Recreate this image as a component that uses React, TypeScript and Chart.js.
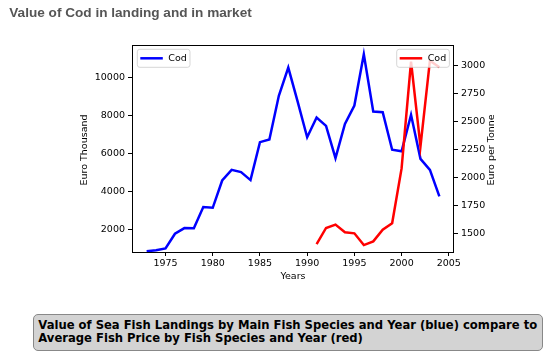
import React, { useEffect, useRef } from "react";
import { Chart, registerables } from "chart.js";

Chart.register(...registerables);

const years: number[] = [
  1973, 1974, 1975, 1976, 1977, 1978, 1979, 1980, 1981, 1982, 1983, 1984, 1985, 1986, 1987, 1988,
  1989, 1990, 1991, 1992, 1993, 1994, 1995, 1996, 1997, 1998, 1999, 2000, 2001, 2002, 2003, 2004,
];
const landingValue: number[] = [
  830, 880, 980, 1750, 2050, 2040, 3160, 3120, 4560, 5120, 5000, 4580, 6580, 6720, 9020, 10510,
  8700, 6840, 7880, 7440, 5740, 7540, 8510, 11210, 8190, 8160, 6180, 6100, 8020, 5700, 5120, 3720,
];
const priceYears: number[] = [1991, 1992, 1993, 1994, 1995, 1996, 1997, 1998, 1999, 2000, 2001, 2002, 2003, 2004];
const priceValue: number[] = [1404, 1548, 1578, 1509, 1500, 1395, 1428, 1533, 1590, 2081, 3036, 2277, 3045, 2985];

const xTicks: number[] = [1975, 1980, 1985, 1990, 1995, 2000, 2005];
const leftTicks: number[] = [2000, 4000, 6000, 8000, 10000];
const rightTicks: number[] = [1500, 1750, 2000, 2250, 2500, 2750, 3000];

const FONT = "DejaVu Sans";

function drawLegend(ctx: CanvasRenderingContext2D, x: number, y: number, color: string, label: string) {
  const w = 52.7;
  const h = 18;
  const r = 2.5;
  ctx.save();
  ctx.beginPath();
  ctx.moveTo(x + r, y);
  ctx.lineTo(x + w - r, y);
  ctx.arcTo(x + w, y, x + w, y + r, r);
  ctx.lineTo(x + w, y + h - r);
  ctx.arcTo(x + w, y + h, x + w - r, y + h, r);
  ctx.lineTo(x + r, y + h);
  ctx.arcTo(x, y + h, x, y + h - r, r);
  ctx.lineTo(x, y + r);
  ctx.arcTo(x, y, x + r, y, r);
  ctx.closePath();
  ctx.fillStyle = "rgba(255,255,255,0.8)";
  ctx.fill();
  ctx.strokeStyle = "rgba(204,204,204,0.8)";
  ctx.lineWidth = 1;
  ctx.stroke();
  ctx.beginPath();
  ctx.moveTo(x + 3, y + h / 2);
  ctx.lineTo(x + 25.5, y + h / 2);
  ctx.strokeStyle = color;
  ctx.lineWidth = 2.5;
  ctx.stroke();
  ctx.fillStyle = "#000";
  ctx.font = `9.5px "${FONT}"`;
  ctx.textBaseline = "middle";
  ctx.textAlign = "left";
  ctx.fillText(label, x + 31, y + h / 2 + 0.5);
  ctx.restore();
}

const decorPlugin = {
  id: "decor",
  afterDatasetsDraw(chart: any) {
    const ctx: CanvasRenderingContext2D = chart.ctx;
    const a = chart.chartArea;
    ctx.save();
    ctx.strokeStyle = "#000";
    ctx.lineWidth = 1;
    ctx.strokeRect(Math.round(a.left) + 0.5, Math.round(a.top) + 0.5, Math.round(a.right - a.left) - 1, Math.round(a.bottom - a.top));
    ctx.restore();
    drawLegend(ctx, a.left + 5.3, a.top + 4.3, "#0000ff", "Cod");
    drawLegend(ctx, a.right - 57.3, a.top + 4.3, "#ff0000", "Cod");
  },
  afterDraw(chart: any) {
    const ctx: CanvasRenderingContext2D = chart.ctx;
    const a = chart.chartArea;
    const midY = (a.top + a.bottom) / 2 + 1.5;
    ctx.save();
    ctx.fillStyle = "#000";
    ctx.font = `9.5px "${FONT}"`;
    ctx.textAlign = "center";
    ctx.textBaseline = "middle";
    ctx.fillText("Years", (a.left + a.right) / 2, 277);
    ctx.save();
    ctx.translate(85, midY);
    ctx.rotate(-Math.PI / 2);
    ctx.fillText("Euro Thousand", 0, 0);
    ctx.restore();
    ctx.save();
    ctx.translate(491.7, midY);
    ctx.rotate(-Math.PI / 2);
    ctx.fillText("Euro per Tonne", 0, 0);
    ctx.restore();
    ctx.restore();
  },
};

export default function App() {
  const canvasRef = useRef<HTMLCanvasElement | null>(null);

  useEffect(() => {
    if (!canvasRef.current) return;
    const tickFont = { family: FONT, size: 9.5 };
    const chart = new Chart(canvasRef.current, {
      type: "line",
      data: {
        datasets: [
          {
            label: "Cod price",
            data: priceYears.map((y, i) => ({ x: y, y: priceValue[i] })),
            borderColor: "#ff0000",
            borderWidth: 2.5,
            pointRadius: 0,
            tension: 0,
            yAxisID: "y2",
            order: 0,
          },
          {
            label: "Cod landing",
            data: years.map((y, i) => ({ x: y, y: landingValue[i] })),
            borderColor: "#0000ff",
            borderWidth: 2.5,
            pointRadius: 0,
            tension: 0,
            yAxisID: "y",
            order: 1,
          },
        ],
      },
      options: {
        responsive: false,
        animation: false,
        layout: { padding: { top: 45, left: 0, right: 0, bottom: 0 } },
        plugins: { legend: { display: false }, tooltip: { enabled: false }, title: { display: false } },
        scales: {
          x: {
            type: "linear",
            min: 1971.45,
            max: 2005.55,
            afterBuildTicks: (s: any) => {
              s.ticks = xTicks.map((v) => ({ value: v }));
            },
            afterFit: (s: any) => {
              s.height = 48;
            },
            ticks: { font: tickFont, color: "#000", padding: 2, maxRotation: 0, autoSkip: false, callback: (v: any) => String(v) },
            grid: { drawOnChartArea: false, drawTicks: true, tickLength: 4, tickColor: "#000", tickWidth: 1 },
            border: { display: false },
          },
          y: {
            type: "linear",
            position: "left",
            min: 790,
            max: 11700,
            afterBuildTicks: (s: any) => {
              s.ticks = leftTicks.map((v) => ({ value: v }));
            },
            afterFit: (s: any) => {
              s.width = 132;
            },
            ticks: { font: tickFont, color: "#000", padding: 3, autoSkip: false, callback: (v: any) => String(v) },
            grid: { drawOnChartArea: false, drawTicks: true, tickLength: 4, tickColor: "#000", tickWidth: 1 },
            border: { display: false },
          },
          y2: {
            type: "linear",
            position: "right",
            min: 1333,
            max: 3185,
            afterBuildTicks: (s: any) => {
              s.ticks = rightTicks.map((v) => ({ value: v }));
            },
            afterFit: (s: any) => {
              s.width = 101;
            },
            ticks: { font: tickFont, color: "#000", padding: 3, autoSkip: false, callback: (v: any) => String(v) },
            grid: { drawOnChartArea: false, drawTicks: true, tickLength: 4, tickColor: "#000", tickWidth: 1 },
            border: { display: false },
          },
        },
      },
      plugins: [decorPlugin],
    } as any);
    return () => chart.destroy();
  }, []);

  return (
    <div style={{ position: "fixed", left: 0, top: 0, width: 555, height: 363, background: "#fff", overflow: "hidden" }}>
      <canvas ref={canvasRef} width={555} height={300} style={{ position: "absolute", left: 0, top: 0, display: "block" }} />
      <div
        style={{
          position: "absolute",
          left: 9.3,
          top: 4.6,
          font: 'bold 13.6px "Liberation Sans", Arial, sans-serif',
          lineHeight: "16px",
          color: "#555",
          whiteSpace: "nowrap",
        }}
      >
        Value of Cod in landing and in market
      </div>
      <div
        style={{
          position: "absolute",
          left: 32.5,
          top: 314,
          width: 510,
          height: 37,
          boxSizing: "border-box",
          border: "1px solid #888",
          borderRadius: 5,
          background: "#d3d3d3",
          padding: "4px 0 0 4.8px",
          font: `bold 11.6px "${FONT}", sans-serif`,
          lineHeight: "13.3px",
          color: "#000",
          whiteSpace: "nowrap",
        }}
      >
        Value of Sea Fish Landings by Main Fish Species and Year (blue) compare to
        <br />
        Average Fish Price by Fish Species and Year (red)
      </div>
    </div>
  );
}
